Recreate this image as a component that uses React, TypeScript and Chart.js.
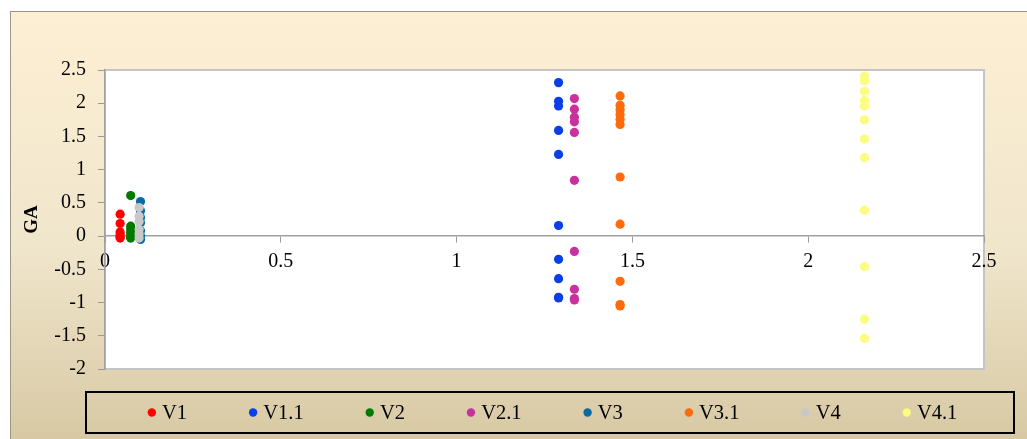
import { useEffect, useRef } from 'react';
import { Chart, registerables } from 'chart.js';

Chart.register(...registerables);

// Series names, colours and the x position each series sits at
const seriesNames = ['V1', 'V1.1', 'V2', 'V2.1', 'V3', 'V3.1', 'V4', 'V4.1'];
const seriesColors = ['#ff0000', '#0a3ee8', '#007a00', '#c8329c', '#0a6aa2', '#ff6a0a', '#c8c8c8', '#fcfc80'];
const seriesX = [0.043, 1.29, 0.073, 1.335, 0.101, 1.465, 0.097, 2.16];

// GA values of each series
const v1 = [0.33, 0.19, 0.06, 0.02, -0.01, -0.03];
const v1_1 = [2.31, 2.03, 1.96, 1.59, 1.23, 0.16, -0.35, -0.64, -0.92, -0.93];
const v2 = [0.61, 0.15, 0.1, 0.05, 0.0, -0.03];
const v2_1 = [2.07, 1.91, 1.79, 1.72, 1.56, 0.84, -0.23, -0.8, -0.94, -0.96];
const v3 = [0.52, 0.38, 0.28, 0.2, 0.08, 0.0, -0.05];
const v3_1 = [2.11, 1.97, 1.9, 1.83, 1.76, 1.68, 0.89, 0.18, -0.68, -1.03, -1.05];
const v4 = [0.43, 0.3, 0.22, 0.1, 0.03, -0.03];
const v4_1 = [2.41, 2.34, 2.18, 2.04, 1.96, 1.75, 1.46, 1.18, 0.39, -0.46, -1.25, -1.54];
const seriesY = [v1, v1_1, v2, v2_1, v3, v3_1, v4, v4_1];

// Axis ticks
const xTicks = [0, 0.5, 1, 1.5, 2, 2.5];
const yTicks = [-2, -1.5, -1, -0.5, 0, 0.5, 1, 1.5, 2, 2.5];

const FONT = '"Liberation Serif", "Times New Roman", serif';

const backdrop = {
  id: 'backdrop',
  beforeDraw(chart: any) {
    const { ctx, width, height, chartArea } = chart;
    ctx.save();
    ctx.fillStyle = '#ffffff';
    ctx.fillRect(0, 0, width, height);
    const g = ctx.createLinearGradient(0, 11, 0, height);
    g.addColorStop(0, '#fdefd3');
    g.addColorStop(0.55, '#f0e6cc');
    g.addColorStop(1, '#d8c9a4');
    ctx.fillStyle = g;
    ctx.fillRect(10, 11, width - 10, height - 11);
    ctx.strokeStyle = '#9c9688';
    ctx.lineWidth = 1;
    ctx.strokeRect(10.5, 11.5, width, height);
    // plot area
    ctx.fillStyle = '#ffffff';
    ctx.fillRect(chartArea.left, chartArea.top, chartArea.right - chartArea.left, chartArea.bottom - chartArea.top);
    ctx.strokeStyle = '#c4c4c4';
    ctx.lineWidth = 2;
    ctx.strokeRect(chartArea.left, chartArea.top, chartArea.right - chartArea.left, chartArea.bottom - chartArea.top);
    ctx.restore();
  },
};

const boxedLegend = {
  id: 'boxedLegend',
  afterDraw(chart: any) {
    const { ctx } = chart;
    const boxL = 86, boxT = 392, boxR = 1014, boxB = 433;
    ctx.save();
    ctx.strokeStyle = '#000000';
    ctx.lineWidth = 2;
    ctx.strokeRect(boxL, boxT, boxR - boxL, boxB - boxT);
    ctx.font = '20.5px ' + FONT;
    ctx.textBaseline = 'middle';
    ctx.textAlign = 'left';
    const ds = chart.data.datasets;
    const r = 4.2;
    const gap = 6;
    const after = 66;
    const widths = ds.map((d: any) => ctx.measureText(d.label).width);
    let total = 0;
    widths.forEach((w: number, i: number) => {
      total += 2 * r + gap + w;
      if (i < widths.length - 1) total += after - r;
    });
    let x = (boxL + boxR) / 2 + 2.5 - total / 2;
    const cy = (boxT + boxB) / 2;
    ds.forEach((d: any, i: number) => {
      ctx.fillStyle = d.backgroundColor;
      ctx.beginPath();
      ctx.arc(x + r, cy, r, 0, Math.PI * 2);
      ctx.fill();
      ctx.fillStyle = '#000000';
      ctx.fillText(d.label, x + 2 * r + gap, cy + 1);
      x += 2 * r + gap + widths[i] + after - r;
    });
    ctx.restore();
  },
};

export default function App() {
  const ref = useRef<HTMLCanvasElement>(null);

  useEffect(() => {
    if (!ref.current) return;
    const datasets = seriesNames.map((name, i) => ({
      label: name,
      data: seriesY[i].map((y) => ({ x: seriesX[i], y })),
      backgroundColor: seriesColors[i],
      borderWidth: 0,
      pointRadius: 4.6,
      pointHoverRadius: 4.6,
      order: seriesNames.length - i,
    }));
    const chart = new Chart(ref.current, {
      type: 'scatter',
      data: { datasets },
      options: {
        responsive: false,
        animation: false,
        events: [],
        layout: { padding: { left: 0, top: 70, right: 43, bottom: 70 } },
        plugins: { legend: { display: false }, tooltip: { enabled: false } },
        scales: {
          x: {
            type: 'linear',
            position: { y: 0 } as any,
            min: 0,
            max: 2.5,
            afterBuildTicks: (s: any) => {
              s.ticks = xTicks.map((v) => ({ value: v }));
            },
            ticks: {
              color: '#000',
              font: { family: FONT, size: 20 },
              padding: 8,
              maxRotation: 0,
              callback: (v: any) => String(v),
            },
            grid: { drawOnChartArea: false, drawTicks: true, tickLength: 6, tickColor: '#999999' },
            border: { color: '#a0a0a0', width: 1.5 },
          },
          y: {
            type: 'linear',
            position: 'left',
            min: -2,
            max: 2.5,
            afterBuildTicks: (s: any) => {
              s.ticks = yTicks.map((v) => ({ value: v }));
            },
            afterFit: (s: any) => {
              s.width = 105;
            },
            ticks: {
              color: '#000',
              font: { family: FONT, size: 20 },
              padding: 12,
              callback: (v: any) => String(v),
            },
            grid: { drawOnChartArea: false, drawTicks: true, tickLength: 7, tickColor: '#999999' },
            border: { color: '#a0a0a0', width: 1.5 },
            title: {
              display: true,
              text: 'GA',
              color: '#000',
              font: { family: FONT, size: 19, weight: 'bold' },
              padding: { top: 21, bottom: 0 },
            },
          },
        },
      },
      plugins: [backdrop, boxedLegend],
    });
    return () => chart.destroy();
  }, []);

  return (
    <div style={{ position: 'fixed', left: 0, top: 0, width: 1027, height: 439 }}>
      <canvas ref={ref} width={1027} height={439} style={{ display: 'block' }} />
    </div>
  );
}
